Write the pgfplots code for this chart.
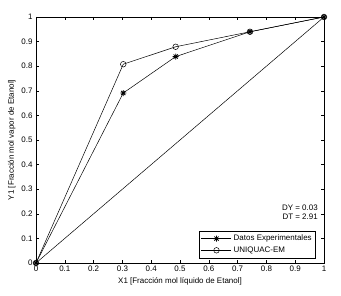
\documentclass[border=0pt]{standalone}
\usepackage{fontspec}
\setmainfont{Liberation Sans}
\usepackage{pgfplots}
\pgfplotsset{compat=1.18}
\pgfdeclareplotmark{mstar}{%
  \pgfpathmoveto{\pgfqpoint{-\pgfplotmarksize}{0pt}}\pgfpathlineto{\pgfqpoint{\pgfplotmarksize}{0pt}}%
  \pgfpathmoveto{\pgfqpoint{0pt}{-\pgfplotmarksize}}\pgfpathlineto{\pgfqpoint{0pt}{\pgfplotmarksize}}%
  \pgfpathmoveto{\pgfqpoint{-0.7\pgfplotmarksize}{-0.7\pgfplotmarksize}}\pgfpathlineto{\pgfqpoint{0.7\pgfplotmarksize}{0.7\pgfplotmarksize}}%
  \pgfpathmoveto{\pgfqpoint{-0.7\pgfplotmarksize}{0.7\pgfplotmarksize}}\pgfpathlineto{\pgfqpoint{0.7\pgfplotmarksize}{-0.7\pgfplotmarksize}}%
  \pgfusepathqstroke}
\begin{document}
\begin{tikzpicture}[x=1bp,y=1bp]
\path[use as bounding box] (0,0) rectangle (341,296);
\begin{axis}[
  at={(36bp,33bp)}, anchor=south west,
  width=288bp, height=246bp, scale only axis,
  xmin=0, xmax=1, ymin=0, ymax=1,
  xtick={0,0.1,...,1}, ytick={0,0.1,...,1},
  xticklabels={0,0.1,0.2,0.3,0.4,0.5,0.6,0.7,0.8,0.9,1},
  yticklabels={0,0.1,0.2,0.3,0.4,0.5,0.6,0.7,0.8,0.9,1},
  tick align=inside, tick pos=both,
  major tick length=3bp,
  tick style={black, line width=0.5pt},
  axis line style={line width=0.5pt},
  ticklabel style={font=\fontsize{8}{9}\selectfont},
  xticklabel style={yshift=1bp},
  xlabel={X1 [Fracción mol líquido de Etanol]},
  ylabel={Y1 [Fracción mol vapor de Etanol]},
  label style={font=\fontsize{8}{9}\selectfont},
  xlabel style={yshift=0.5bp},
  ylabel style={yshift=-1bp},
  legend style={at={(0.972,0.02)}, anchor=south east, font=\fontsize{8}{9}\selectfont,
     draw=black, line width=0.5pt, inner xsep=2pt, inner ysep=2pt, row sep=0.5pt, cells={anchor=west},
     legend image code/.code={\draw[mark repeat=2,mark phase=2,#1] plot coordinates {(0bp,0bp) (15bp,0bp) (30bp,0bp)};}},
  legend cell align=left,
]
\addplot[black, line width=0.5pt, mark=mstar, mark size=3bp, mark options={line width=0.8pt}] coordinates {
 (0,0) (0.303,0.691) (0.485,0.839) (0.743,0.940) (1,1)};
\addlegendentry{Datos Experimentales}
\addplot[black, line width=0.5pt, mark=o, mark size=2.8bp] coordinates {
 (0,0) (0.303,0.808) (0.485,0.879) (0.743,0.940) (1,1)};
\addlegendentry{UNIQUAC-EM}
\addplot[black, line width=0.5pt, forget plot] coordinates {(0,0) (1,1)};
\node[anchor=east, font=\fontsize{8}{9}\selectfont, align=right, inner sep=0pt] at (axis cs:0.979,0.207) {DY = 0.03\\[0.5pt]DT = 2.91};
\end{axis}
\end{tikzpicture}
\end{document}
